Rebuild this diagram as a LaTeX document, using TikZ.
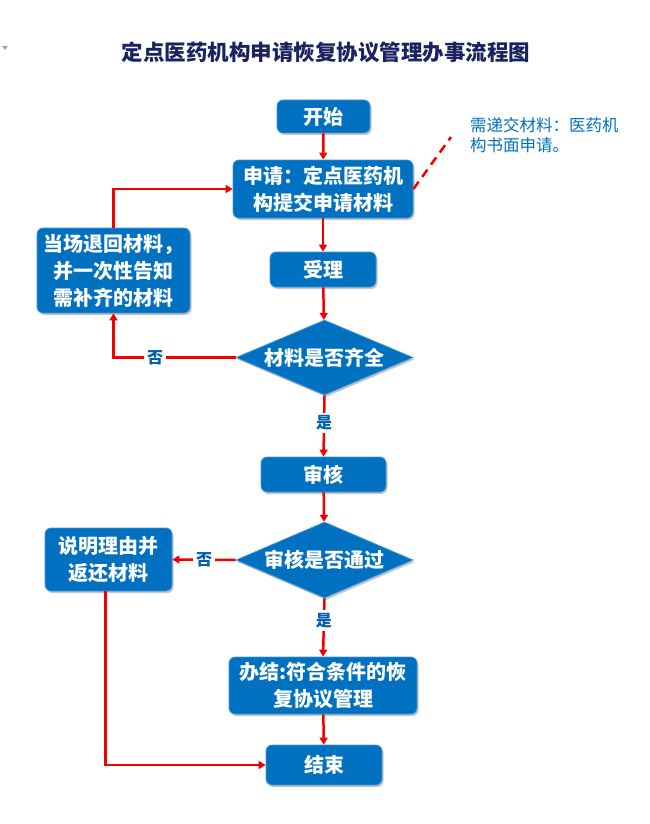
\documentclass[tikz,border=0pt]{standalone}
\usepackage{fontspec}
\setmainfont{Noto Sans CJK SC}
\usetikzlibrary{shapes.geometric,shadows,arrows.meta}
\definecolor{boxblue}{RGB}{0,112,192}
\definecolor{boxedge}{RGB}{70,150,215}
\definecolor{linered}{RGB}{240,0,0}
\definecolor{lblblue}{RGB}{0,95,175}
\definecolor{titlenavy}{RGB}{25,35,95}
\begin{document}
\begin{tikzpicture}[x=1pt,y=-1pt,
  shad/.style={drop shadow={shadow xshift=1.5pt,shadow yshift=-2pt,fill=black!45,opacity=0.5}},
  box/.style={rectangle,rounded corners=6pt,fill=boxblue,draw=boxedge,line width=0.8pt,text=white,
    font=\fontsize{20}{27}\selectfont\bfseries,align=center,inner sep=0pt,shad},
  dec/.style={diamond,aspect=2.36,fill=boxblue,draw=boxedge,line width=0.8pt,text=white,
    font=\fontsize{20}{27}\selectfont\bfseries,align=center,inner sep=0pt,shad},
  arr/.style={draw=linered,line width=2.5pt,-{Triangle[length=7pt,width=8pt]}},
  lbl/.style={fill=white,text=lblblue,font=\fontsize{16}{16}\selectfont\bfseries,inner sep=3pt},
  note/.style={text=boxblue,font=\fontsize{16.5}{20}\selectfont,align=left,inner sep=0pt}
]
\useasboundingbox (0,0) rectangle (650,824);
% tiny marker
\fill[black!35] (2,46) -- (8,46) -- (5,50) -- cycle;
% title
\node[text=titlenavy,font=\fontsize{21.5}{21.5}\selectfont\bfseries,inner sep=0pt] (title) at (326,52) {定点医药机构申请恢复协议管理办事流程图};
% nodes
\node[box,minimum width=93,minimum height=33] (start) at (323.5,116.5) {开始};
\node[box,minimum width=180,minimum height=58] (apply) at (323,189) {申请：定点医药机\\构提交申请材料};
\node[box,minimum width=106,minimum height=35] (accept) at (323,269.5) {受理};
\node[dec,minimum width=177,minimum height=75] (check1) at (324.5,357.5) {材料是否齐全};
\node[box,minimum width=153,minimum height=85] (ret) at (113.5,270.5) {当场退回材料，\\并一次性告知\\需补齐的材料};
\node[box,minimum width=125,minimum height=35] (audit) at (323.5,474.5) {审核};
\node[dec,minimum width=177,minimum height=76] (check2) at (324.5,560) {审核是否通过};
\node[box,minimum width=127,minimum height=63] (explain) at (108.5,559.5) {说明理由并\\返还材料};
\node[box,minimum width=188,minimum height=57] (done) at (323,685.5) {办结:符合条件的恢\\复协议管理};
\node[box,minimum width=116,minimum height=40] (fin) at (324,765) {结束};
% annotation
\node[note,anchor=north west] (notetext) at (470,117) {需递交材料：医药机\\构书面申请。};
\coordinate (notetip) at (451,137);
\draw[draw=linered,line width=2.5pt,dash pattern=on 9pt off 6pt] (apply.east) -- (notetip);
% connectors
\draw[arr] (start) -- (apply);
\draw[arr] (apply) -- (accept);
\draw[arr] (accept) -- (check1);
\draw[arr] (check1.west) -| node[lbl,pos=0.33] {否} (ret.south);
\draw[arr] (ret.north) |- (apply.west);
\draw[arr] (check1.south) -- node[lbl,pos=0.45] {是} (audit.north);
\draw[arr] (audit) -- (check2);
\draw[arr] (check2.west) -- node[lbl,pos=0.5] {否} (explain.east);
\draw[arr] (check2.south) -- node[lbl,pos=0.38] {是} (done.north);
\draw[arr] (done) -- (fin);
\draw[arr] ([xshift=-3pt]explain.south) |- (fin.west);
\end{tikzpicture}
\end{document}
